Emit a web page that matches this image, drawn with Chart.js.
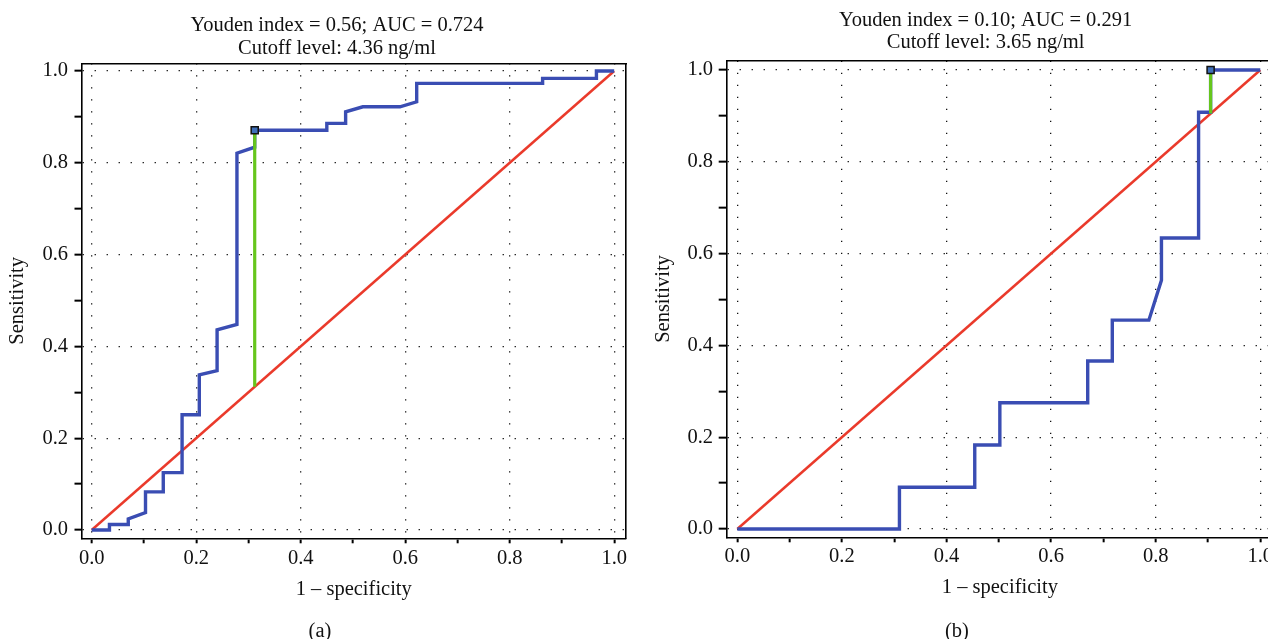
<!DOCTYPE html>
<html>
<head>
<meta charset="utf-8">
<script src="https://cdn.jsdelivr.net/npm/chart.js@4.4.0/dist/chart.umd.min.js"></script>
<style>
  html, body { margin: 0; padding: 0; background: #fff; overflow: hidden; width: 1268px; height: 639px; }
  canvas { position: absolute; top: 0; }
  #rocA { left: 0; }
  #rocB { left: 640px; }
  .caption { position: absolute; top: 618px; font: 20.5px/24px "Liberation Serif", serif; color: #111; transform: translateX(-50%); }
</style>
</head>
<body>
<canvas id="rocA" width="680" height="639"></canvas>
<canvas id="rocB" width="700" height="639"></canvas>
<div class="caption" style="left:320px">(a)</div>
<div class="caption" style="left:957px">(b)</div>
<script>
// axis ticks (labels only on the even ones)
const tickValues = [0, 0.1, 0.2, 0.3, 0.4, 0.5, 0.6, 0.7, 0.8, 0.9, 1.0];
const majorTicks = [0, 0.2, 0.4, 0.6, 0.8, 1.0];

// chance line
const refFpr = [0, 1];
const refSens = [0, 1];

// panel (a)
const titleA = ['Youden index = 0.56; AUC = 0.724', 'Cutoff level: 4.36 ng/ml'];
const fprA = [0, 0.034, 0.034, 0.070, 0.070, 0.103, 0.103, 0.137, 0.137, 0.173, 0.173, 0.206, 0.206, 0.240, 0.240, 0.278, 0.278,
  0.312, 0.312, 0.450, 0.450, 0.486, 0.486, 0.519, 0.590, 0.622, 0.622, 0.863, 0.863, 0.966, 0.966, 1.0];
const sensA = [0, 0, 0.012, 0.012, 0.024, 0.038, 0.083, 0.083, 0.125, 0.125, 0.251, 0.251, 0.338, 0.347, 0.436, 0.448, 0.821,
  0.834, 0.871, 0.871, 0.886, 0.886, 0.911, 0.922, 0.922, 0.933, 0.973, 0.973, 0.984, 0.984, 1.0, 1.0];
const cutFprA = 0.312;
const cutSensA = 0.871;

// panel (b)
const titleB = ['Youden index = 0.10; AUC = 0.291', 'Cutoff level: 3.65 ng/ml'];
const fprB = [0, 0.310, 0.310, 0.454, 0.454, 0.502, 0.502, 0.670, 0.670, 0.717, 0.717, 0.787, 0.811, 0.811, 0.882, 0.882, 0.905, 0.905, 1.0];
const sensB = [0, 0, 0.091, 0.091, 0.183, 0.183, 0.275, 0.275, 0.366, 0.366, 0.455, 0.455, 0.542, 0.634, 0.634, 0.908, 0.908, 1.0, 1.0];
const cutFprB = 0.905;
const cutSensB = 1.0;

const serif = '"Liberation Serif", "Times New Roman", serif';

function isMajor(v) {
    return majorTicks.some(m => Math.abs(m - v) < 1e-6);
}

function toPoints(xs, ys) {
    return xs.map((x, i) => ({ x: x, y: ys[i] }));
}

function rocChart(id, fpr, sens, cutFpr, cutSens, title, box) {
    const font = { family: serif, size: 20.5, lineHeight: 1.2 };
    const gridColor = c => (c.tick && isMajor(c.tick.value)) ? '#111' : 'rgba(0,0,0,0)';
    const fixTicks = s => { s.ticks = tickValues.map(v => ({ value: v })); };
    const label = v => isMajor(v) ? Number(v).toFixed(1) : '';

    new Chart(document.getElementById(id), {
        type: 'scatter',
        data: {
            datasets: [
                { data: toPoints(refFpr, refSens), showLine: true, borderColor: '#ea3a2b', borderWidth: 2.5, pointRadius: 0, order: 4 },
                { data: toPoints(fpr, sens), showLine: true, borderColor: '#3a4db3', borderWidth: 3.4, pointRadius: 0, order: 3 },
                // Youden segment: from the chance line up to the curve
                { data: toPoints([cutFpr, cutFpr], [cutFpr, cutSens]), showLine: true, borderColor: '#66c61c', borderWidth: 3.2, pointRadius: 0, order: 2 },
                { data: toPoints([cutFpr], [cutSens]), pointStyle: 'rect', pointRadius: 5, pointBackgroundColor: '#3f6fb8',
                  pointBorderColor: '#111', pointBorderWidth: 1.5, order: 1 }
            ]
        },
        options: {
            responsive: false,
            animation: false,
            layout: { padding: { left: 2, right: box.padRight, top: 0, bottom: box.padBottom } },
            plugins: {
                legend: { display: false },
                tooltip: { enabled: false },
                title: {
                    display: true, text: title, color: '#111',
                    font: { family: serif, size: 20.5, weight: 'normal', lineHeight: 1.1 },
                    padding: { top: box.titleTop, bottom: box.titleBottom }
                }
            },
            scales: {
                x: {
                    type: 'linear', position: 'bottom', min: box.xMin, max: box.xMax,
                    afterBuildTicks: fixTicks,
                    afterFit: s => { s.height = 70; },
                    ticks: { color: '#111', font: font, padding: box.xTickPad, maxRotation: 0, autoSkip: false, callback: label },
                    grid: { color: gridColor, lineWidth: 1.3, tickLength: 5, tickWidth: 2, tickColor: '#000' },
                    border: { color: '#000', width: 1.6, dash: [1.3, 10.7] },
                    title: { display: true, text: '1 – specificity', color: '#111', font: font, padding: { top: 0, bottom: box.xTitleBottom } }
                },
                y: {
                    type: 'linear', position: 'left', min: box.yMin, max: box.yMax,
                    afterBuildTicks: fixTicks,
                    afterFit: s => { s.width = box.yWidth; },
                    ticks: { color: '#111', font: font, padding: box.yTickPad, autoSkip: false, callback: label },
                    grid: { color: gridColor, lineWidth: 1.3, tickLength: box.yTickLen, tickWidth: 2, tickColor: '#000' },
                    border: { color: '#000', width: 1.6, dash: [1.3, 10.7] },
                    title: { display: true, text: 'Sensitivity', color: '#111', font: font, padding: { top: box.yTitleTop, bottom: 0 } }
                },
                // plain frame edges on top and right
                xTop: {
                    axis: 'x', type: 'linear', position: 'top', min: box.xMin, max: box.xMax,
                    ticks: { display: false }, grid: { drawOnChartArea: false, drawTicks: false },
                    border: { color: '#000', width: 1.6 },
                    afterFit: s => { s.height = 0; }
                },
                yRight: {
                    axis: 'y', type: 'linear', position: 'right', min: box.yMin, max: box.yMax,
                    ticks: { display: false }, grid: { drawOnChartArea: false, drawTicks: false },
                    border: { color: '#000', width: 1.6 },
                    afterFit: s => { s.width = box.rightWidth; }
                }
            }
        }
    });
}

document.addEventListener("DOMContentLoaded", () => {
    rocChart('rocA', fprA, sensA, cutFprA, cutSensA, titleA, {
        xMin: -0.0195, xMax: 1.0226, yMin: -0.0181, yMax: 1.0168,
        padRight: 8, rightWidth: 46, yWidth: 79.5, padBottom: 30.7,
        titleTop: 14.7, titleBottom: 3.5,
        xTickPad: 3.4, xTitleBottom: 6, yTickPad: 6.5, yTickLen: 7, yTitleTop: 3.7
    });
    rocChart('rocB', fprB, sensB, cutFprB, cutSensB, titleB, {
        xMin: -0.0203, xMax: 1.0243, yMin: -0.0181, yMax: 1.0203,
        padRight: 10.8, rightWidth: 56.2, yWidth: 84.7, padBottom: 31.7,
        titleTop: 9.2, titleBottom: 6.4,
        xTickPad: 2.4, xTitleBottom: 7, yTickPad: 5.7, yTickLen: 8, yTitleTop: 9.7
    });
});
</script>
</body>
</html>
